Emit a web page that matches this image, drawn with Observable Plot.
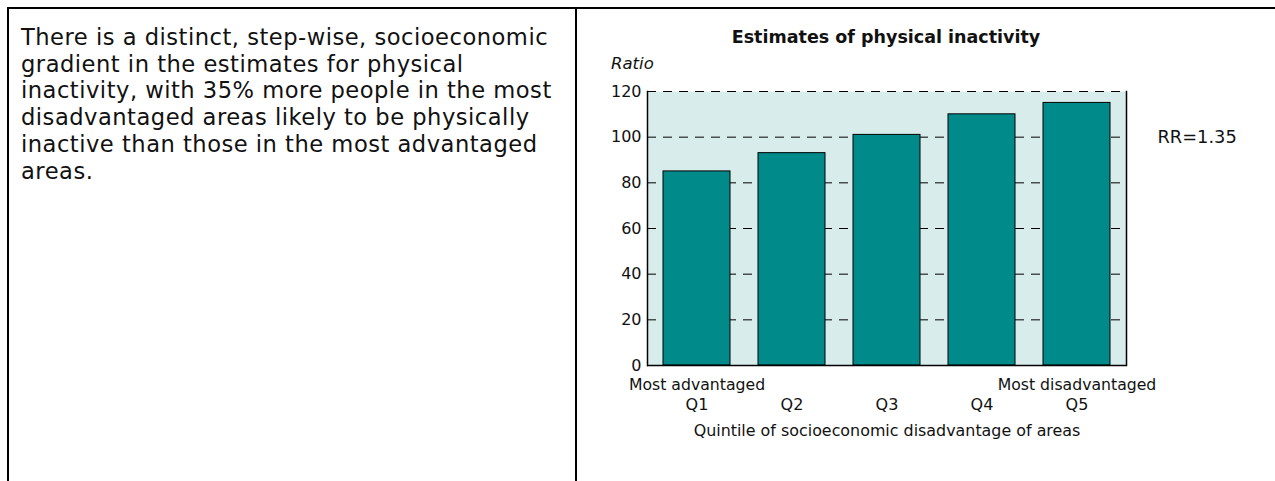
<!DOCTYPE html>
<html><head><meta charset="utf-8">
<script src="https://cdn.jsdelivr.net/npm/d3@7"></script>
<script src="https://cdn.jsdelivr.net/npm/@observablehq/plot@0.6"></script>
<style>
body{margin:0;background:#fff;width:1275px;height:481px;overflow:hidden;position:relative;font-family:"DejaVu Sans",sans-serif;color:#111}
.bt{position:absolute;left:7px;top:7px;width:1268px;height:2px;background:#000}
.bl{position:absolute;left:7px;top:7px;width:2px;height:474px;background:#000}
.bm{position:absolute;left:575px;top:7px;width:2px;height:474px;background:#000}
#txt{position:absolute;left:21px;top:24px;font-size:22.6px;line-height:26.7px;white-space:nowrap;letter-spacing:0.5px}
#title{position:absolute;left:578px;width:616px;top:27px;text-align:center;font-weight:bold;font-size:17.5px}
#ratio{position:absolute;left:611px;top:54px;font-style:italic;font-size:16.5px}
#chart{position:absolute;left:578px;top:0}
</style></head><body>
<div class="bt"></div><div class="bl"></div><div class="bm"></div>
<div id="txt"></div>
<div id="title"></div>
<div id="ratio"></div>
<div id="chart"></div>
<script>
const bodyLines = [
  "There is a distinct, step-wise, socioeconomic",
  "gradient in the estimates for physical",
  "inactivity, with 35% more people in the most",
  "disadvantaged areas likely to be physically",
  "inactive than those in the most advantaged",
  "areas."
];
const chartTitle = "Estimates of physical inactivity";
const yAxisLabel = "Ratio";
const xAxisLabel = "Quintile of socioeconomic disadvantage of areas";
const quintiles = ["Q1", "Q2", "Q3", "Q4", "Q5"];
const ratios = [85, 93, 101, 110, 115];
const endLabels = ["Most advantaged", "", "", "", "Most disadvantaged"];
const yTicks = [0, 20, 40, 60, 80, 100, 120];
const gridValues = [20, 40, 60, 80, 100, 120];
const rrText = ["RR=1.35"];
const rrAt = [100];

document.getElementById("txt").innerHTML = bodyLines.join("<br>");
document.getElementById("title").textContent = chartTitle;
document.getElementById("ratio").textContent = yAxisLabel;

const data = quintiles.map((q, i) => ({q, ratio: ratios[i], end: endLabels[i]}));

const chart = Plot.plot({
  width: 697, height: 481,
  marginLeft: 69, marginRight: 149, marginTop: 91, marginBottom: 116,
  style: {fontFamily: "DejaVu Sans, sans-serif", fontSize: "16px", color: "#111", background: "transparent"},
  x: {domain: quintiles, paddingInner: 0.3, paddingOuter: 0.15, label: null, tickSize: 0, tickPadding: 33},
  y: {domain: [0, 120], ticks: yTicks, tickSize: 0, tickPadding: 6, label: null},
  marks: [
    Plot.frame({fill: "#d9ecec", stroke: null}),
    Plot.ruleY(gridValues, {stroke: "#000", strokeDasharray: "9,7", strokeWidth: 1}),
    Plot.barY(data, {x: "q", y: "ratio", fill: "#008a8a", stroke: "#000", strokeWidth: 1}),
    Plot.frame({anchor: "left", stroke: "#000", strokeWidth: 1.5}),
    Plot.frame({anchor: "right", stroke: "#000", strokeWidth: 1.5}),
    Plot.ruleY([0], {stroke: "#000", strokeWidth: 1.5}),
    Plot.text(data.filter(d => d.end), {x: "q", y: () => 0, text: "end", dy: 19, fontSize: 15.7}),
    Plot.text(rrText, {y: rrAt, text: d => d, frameAnchor: "right", textAnchor: "start", dx: 31, fontSize: 17.8}),
    Plot.text([xAxisLabel], {text: d => d, frameAnchor: "bottom", dy: 70, fontSize: 15.9})
  ]
});
document.getElementById("chart").appendChild(chart);
</script>
</body></html>
